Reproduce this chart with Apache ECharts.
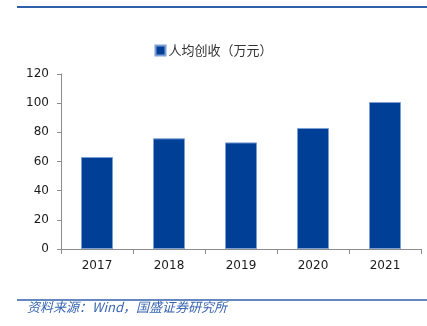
<!DOCTYPE html>
<html>
<head>
<meta charset="utf-8">
<script src="https://cdn.jsdelivr.net/npm/echarts@6/dist/echarts.min.js"></script>
<style>
  html, body { margin: 0; padding: 0; background: #fff; }
  #chart { width: 427px; height: 326px; }
</style>
</head>
<body>
<div id="chart"></div>
<script>
// Revenue per employee by year (10k CNY)
const years = ['2017', '2018', '2019', '2020', '2021'];
const revenuePerHead = [63.1, 75.9, 73.1, 83.0, 100.8];
const seriesName = '人均创收（万元）';
const yTicks = { min: 0, max: 120, interval: 20 };
const sourceNote = '资料来源：Wind，国盛证券研究所';

const chart = echarts.init(document.getElementById('chart'), null, { renderer: 'canvas' });
const barBlue = '#003f96';
const axisGrey = '#8c8c8c';
const labelFont = 'Verdana, "DejaVu Sans", sans-serif';
const cjkFont = '"Noto Sans CJK SC", sans-serif';

chart.setOption({
  animation: false,
  backgroundColor: '#fff',
  legend: {
    data: [seriesName],
    top: 39,
    left: 'center',
    itemWidth: 10,
    itemHeight: 10,
    itemGap: 4,
    icon: 'rect',
    textStyle: { fontSize: 13, color: '#333', fontFamily: cjkFont, padding: [0, 0, 0, -2] }
  },
  grid: { left: 61, right: 6, top: 74, bottom: 77 },
  xAxis: {
    type: 'category',
    data: years,
    axisLine: { lineStyle: { color: axisGrey, width: 1 } },
    axisTick: { show: true, alignWithLabel: false, length: 5, lineStyle: { color: axisGrey } },
    axisLabel: { fontSize: 12, color: '#1a1a1a', fontFamily: labelFont, margin: 11 }
  },
  yAxis: {
    type: 'value',
    min: yTicks.min,
    max: yTicks.max,
    interval: yTicks.interval,
    axisLine: { show: true, lineStyle: { color: axisGrey, width: 1 } },
    axisTick: { show: true, length: 4, lineStyle: { color: axisGrey } },
    splitLine: { show: false },
    axisLabel: { fontSize: 12, color: '#1a1a1a', fontFamily: labelFont, margin: 12 }
  },
  series: [{
    name: seriesName,
    type: 'bar',
    data: revenuePerHead,
    barWidth: 32,
    itemStyle: { color: barBlue, borderColor: '#7d9fd6', borderWidth: 1 }
  }],
  graphic: [
    { type: 'line', shape: { x1: 17, y1: 7, x2: 427, y2: 7 }, style: { stroke: '#2f5fa8', lineWidth: 2 } },
    { type: 'line', shape: { x1: 17, y1: 300, x2: 427, y2: 300 }, style: { stroke: '#2f5fa8', lineWidth: 1.5 } },
    {
      type: 'text', left: 27, top: 301,
      style: { text: sourceNote, fill: '#3a66b0', fontSize: 13, fontStyle: 'italic', fontFamily: cjkFont }
    }
  ]
});
</script>
</body>
</html>
